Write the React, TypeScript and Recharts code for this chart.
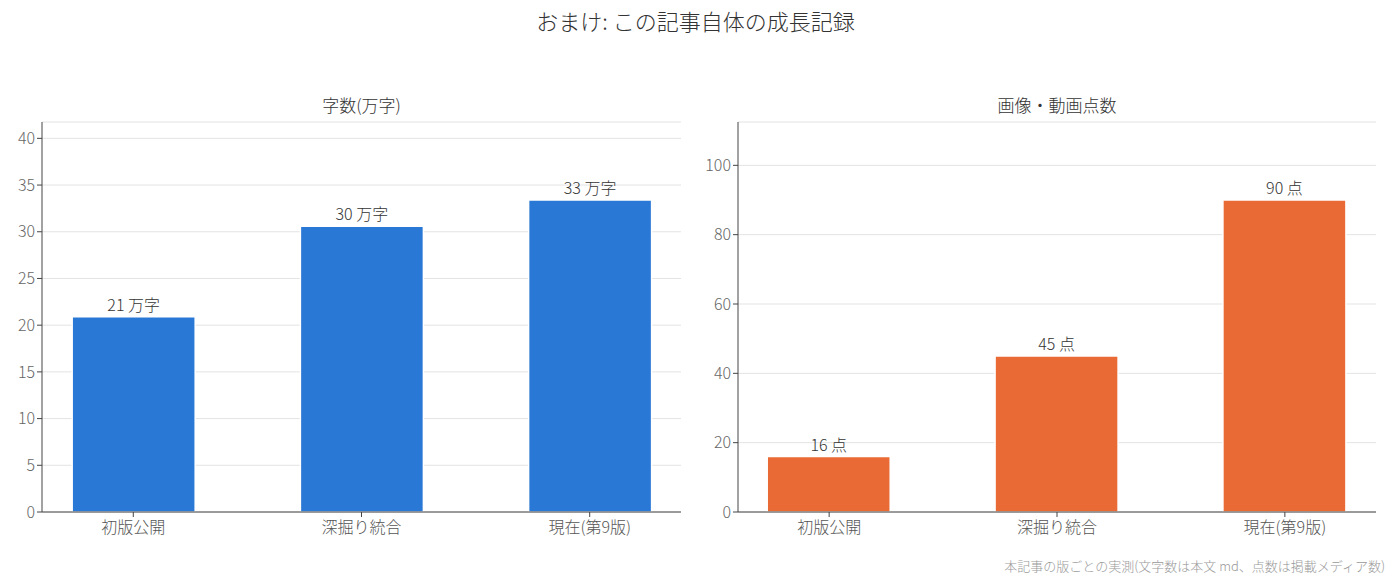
import React from 'react';
import { BarChart, Bar, XAxis, YAxis, CartesianGrid, LabelList } from 'recharts';

const versions = ['初版公開', '深掘り統合', '現在(第9版)'];
const charCounts = [20.9, 30.6, 33.4];
const charLabels = ['21', '30', '33'];
const mediaCounts = [16, 45, 90];
const charTicks = [0, 5, 10, 15, 20, 25, 30, 35, 40];
const mediaTicks = [0, 20, 40, 60, 80, 100];

const FONT = '"Noto Sans CJK JP", "Noto Sans", sans-serif';

const charData = versions.map((v, i) => ({ idx: i, name: v, value: charCounts[i], label: charLabels[i] }));
const mediaData = versions.map((v, i) => ({ idx: i, name: v, value: mediaCounts[i], label: String(mediaCounts[i]) }));

type PanelProps = {
  data: { idx: number; name: string; value: number; label: string }[];
  title: string;
  unit: string;
  color: string;
  ticks: number[];
  yMax: number;
  width: number;
  left: number;
  yAxisWidth: number;
  marginLeft: number;
  marginRight: number;
};

const Panel = ({ data, title, unit, color, ticks, yMax, width, left, yAxisWidth, marginLeft, marginRight }: PanelProps) => {
  const plotLeft = marginLeft + yAxisWidth;
  const plotW = width - plotLeft - marginRight;
  return (
    <div style={{ position: 'absolute', left, top: 0 }}>
      <BarChart
        width={width}
        height={585}
        data={data}
        margin={{ top: 122, right: marginRight, bottom: 43, left: marginLeft }}
        style={{ fontFamily: FONT }}
      >
        <CartesianGrid vertical={false} stroke="#e3e3e3" strokeWidth={1} />
        <XAxis
          dataKey="idx"
          type="number"
          domain={[-0.4, 2.4]}
          ticks={[0, 1, 2]}
          tickFormatter={(v: number) => versions[v]}
          stroke="#444"
          tickLine={{ stroke: '#444' }}
          tickSize={5}
          tick={{ fill: '#555', fontSize: 16, fontFamily: FONT, fontWeight: 300, dy: 3 }}
          height={30}
          allowDataOverflow
        />
        <YAxis
          domain={[0, yMax]}
          ticks={ticks}
          width={yAxisWidth}
          stroke="#444"
          tickLine={{ stroke: '#444' }}
          tickSize={5}
          tick={{ fill: '#666', fontSize: 16, fontFamily: FONT, fontWeight: 300 }}
          allowDataOverflow
        />
        <Bar dataKey="value" fill={color} stroke="#ffffff" strokeWidth={1.5} barSize={Math.round(plotW / 2.8 * 0.54)} isAnimationActive={false}>
          <LabelList
            dataKey="label"
            position="top"
            offset={6}
            formatter={(v: string) => `${v} ${unit}`}
            style={{ fill: '#333', fontSize: 16, fontFamily: FONT, fontWeight: 300 }}
          />
        </Bar>
      </BarChart>
      <div
        style={{
          position: 'absolute',
          top: 92,
          left: plotLeft,
          width: plotW,
          textAlign: 'center',
          fontFamily: FONT,
          fontSize: 17,
          fontWeight: 300,
          color: '#333',
        }}
      >
        {title}
      </div>
    </div>
  );
};

export default function App() {
  return (
    <div style={{ position: 'fixed', left: 0, top: 0, width: 1399, height: 585, background: '#fff', fontFamily: FONT, fontWeight: 300 }}>
      <div style={{ position: 'absolute', top: 4, left: 0, width: 1391, textAlign: 'center', fontSize: 22, color: '#333' }}>
        おまけ: この記事自体の成長記録
      </div>
      <Panel
        data={charData}
        title="字数(万字)"
        unit="万字"
        color="#2a78d6"
        ticks={charTicks}
        yMax={41.75}
        width={700}
        left={0}
        yAxisWidth={40}
        marginLeft={2}
        marginRight={19}
      />
      <Panel
        data={mediaData}
        title="画像・動画点数"
        unit="点"
        color="#e96a35"
        ticks={mediaTicks}
        yMax={112.5}
        width={699}
        left={700}
        yAxisWidth={36}
        marginLeft={2}
        marginRight={23}
      />
      <div style={{ position: 'absolute', top: 556, right: 14, fontSize: 13, color: '#999' }}>
        本記事の版ごとの実測(文字数は本文 md、点数は掲載メディア数)
      </div>
    </div>
  );
}
